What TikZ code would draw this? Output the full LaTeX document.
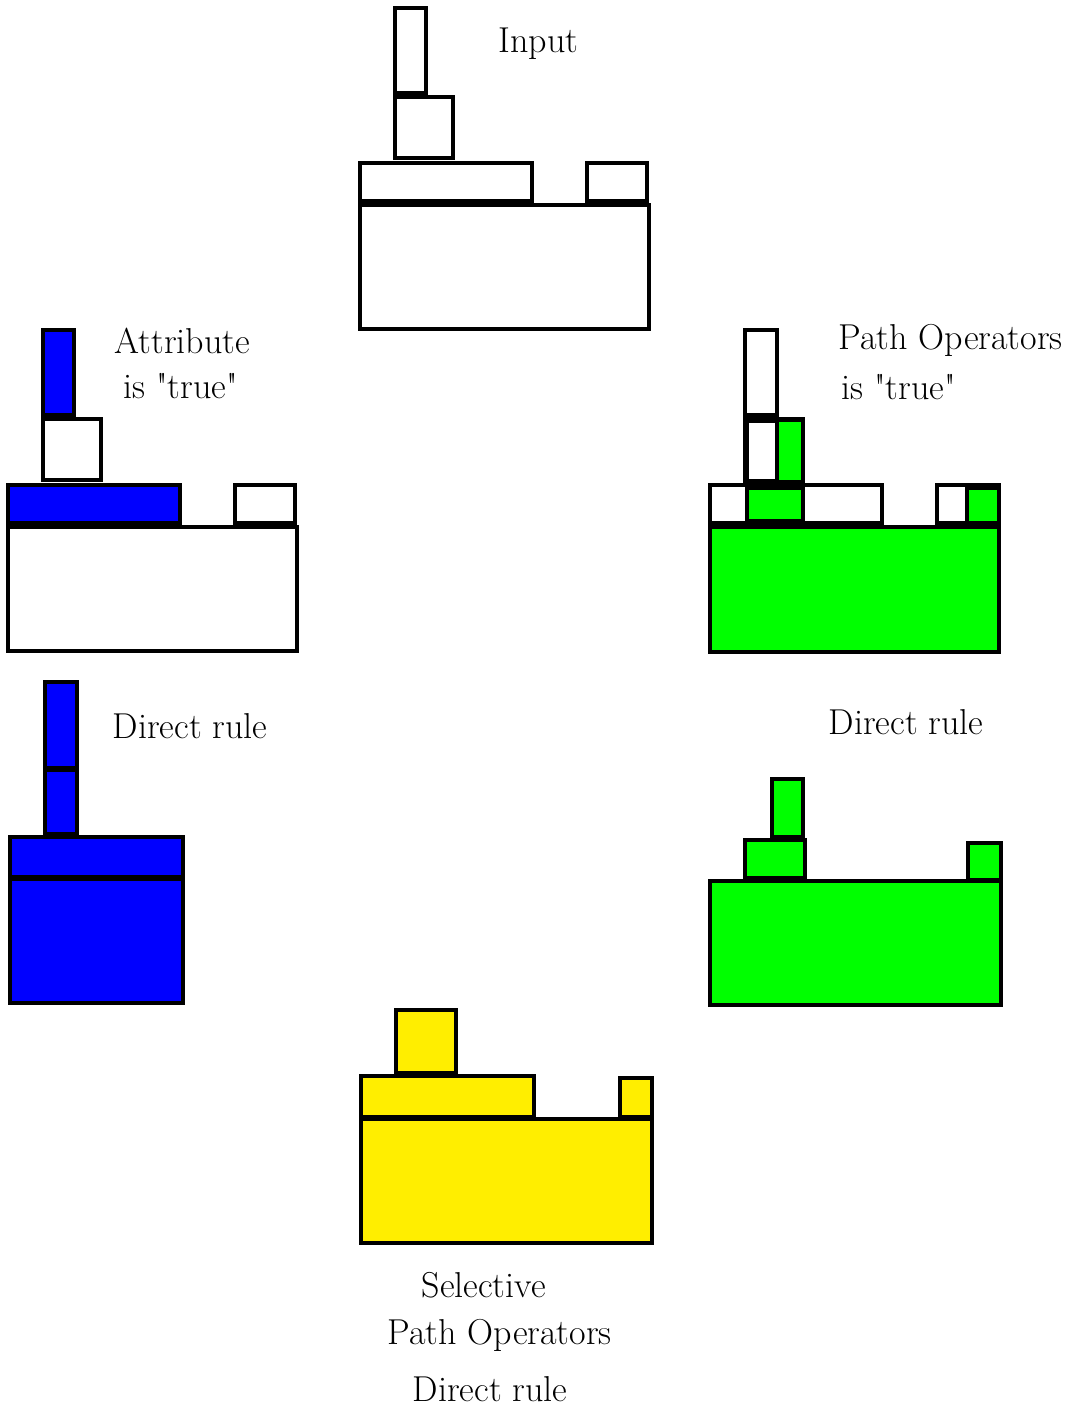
\documentclass[tikz,border=0pt]{standalone}
\usepackage{fontspec}
\definecolor{vblue}{RGB}{0,0,255}
\definecolor{vgreen}{RGB}{0,255,0}
\definecolor{vyellow}{RGB}{255,238,0}
\newcommand{\qtrue}{is \textquotedbl true\textquotedbl}
\begin{document}
\begin{tikzpicture}[x=0.5pt, y=-0.5pt, line width=1.6pt, font=\fontsize{18}{21}\selectfont,
    lbl/.style={anchor=base west, inner sep=0pt}]
\useasboundingbox (0,0) rectangle (1071,1408);
% input
\draw (395,8) rectangle (426,93) (395,97) rectangle (453,158);
\draw (360,163) rectangle (532,201) (587,163) rectangle (647,201);
\draw (360,205) rectangle (649,329);
\node[lbl] (input) at (497,53) {Input};
% attribute is "true"
\begin{scope}[shift={(-352,322)}]
	\draw[fill=vblue] (395,8) rectangle (426,93);
	\draw (395,97) rectangle (453,158);
	\draw[fill=vblue] (360,163) rectangle (532,201);
	\draw (587,163) rectangle (647,201) (360,205) rectangle (649,329);
\end{scope}
\node[lbl] (attr) at (113,353) {Attribute};
\node[lbl] (attrtrue) at (122,398) {\qtrue};
% path operators is "true"
\draw (745,330) rectangle (777,415) (745,419) rectangle (803,482);
\draw[fill=white] (747,421) rectangle (777,481);
\draw[fill=vgreen] (777,420) rectangle (803,482);
\draw (710,485) rectangle (882,523);
\draw[fill=vgreen] (747,488) rectangle (803,521);
\draw (937,485) rectangle (999,523);
\draw[fill=vgreen] (967,488) rectangle (999,523);
\draw[fill=vgreen] (710,527) rectangle (999,652);
\node[lbl] (pathop) at (837,349) {Path Operators};
\node[lbl] (pathtrue) at (840,399) {\qtrue};
% direct rule, blue
\draw[fill=vblue] (45,682) rectangle (77,768) (45,770) rectangle (77,834);
\draw[fill=vblue] (10,837) rectangle (183,877) (10,879) rectangle (183,1003);
\node[lbl] (directl) at (111,738) {Direct rule};
% direct rule, green
\draw[fill=vgreen] (772,779) rectangle (803,837) (745,840) rectangle (805,878) (968,843) rectangle (1001,880);
\draw[fill=vgreen] (710,881) rectangle (1001,1005);
\node[lbl] (directr) at (827,734) {Direct rule};
% selective
\draw[fill=vyellow] (396,1010) rectangle (456,1073) (361,1076) rectangle (534,1117) (620,1078) rectangle (652,1117);
\draw[fill=vyellow] (361,1119) rectangle (652,1243);
\node[lbl] (sel) at (420,1297) {Selective};
\node[lbl] (selpath) at (386,1344) {Path Operators};
\node[lbl] (seldirect) at (411,1401) {Direct rule};
\end{tikzpicture}
\end{document}
